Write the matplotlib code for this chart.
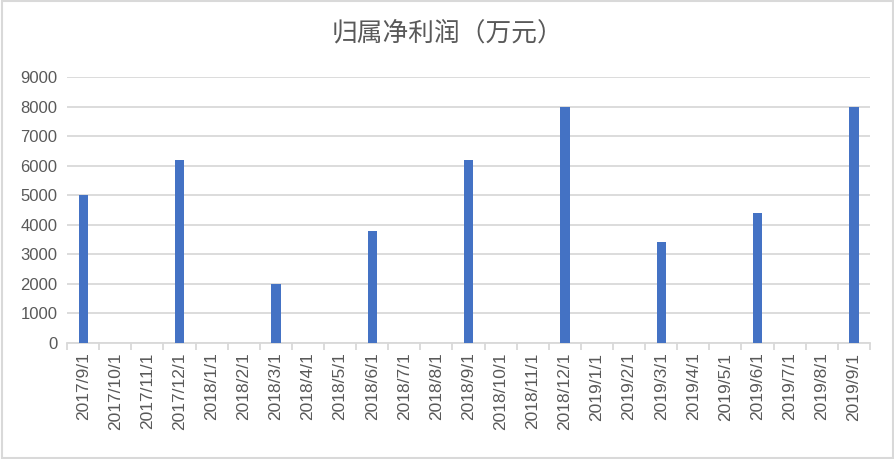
import numpy as np
import matplotlib
matplotlib.use('Agg')
import matplotlib.pyplot as plt
from matplotlib.ticker import FixedLocator

plt.rcParams['font.family'] = ['Liberation Sans', 'Noto Sans CJK SC', 'DejaVu Sans']

# data
dates = ['2017/9/1', '2017/10/1', '2017/11/1', '2017/12/1', '2018/1/1', '2018/2/1',
         '2018/3/1', '2018/4/1', '2018/5/1', '2018/6/1', '2018/7/1', '2018/8/1',
         '2018/9/1', '2018/10/1', '2018/11/1', '2018/12/1', '2019/1/1', '2019/2/1',
         '2019/3/1', '2019/4/1', '2019/5/1', '2019/6/1', '2019/7/1', '2019/8/1',
         '2019/9/1']
profit = [5000, 0, 0, 6200, 0, 0, 2000, 0, 0, 3800, 0, 0, 6200, 0, 0, 8000,
          0, 0, 3400, 0, 0, 4400, 0, 0, 8000]
title = '归属净利润（万元）'

txt = '#595959'
grid = '#D9D9D9'

fig = plt.figure(figsize=(8.95, 4.59), dpi=100)
ax = fig.add_axes([0.075, 0.253, 0.897, 0.579])

x = np.arange(len(dates))
ax.bar(x, profit, width=0.29, color='#4472C4', zorder=3)

ax.set_xlim(-0.5, len(dates) - 0.5)
ax.set_ylim(0, 9000)
ax.set_yticks(np.arange(0, 9001, 1000))
ax.yaxis.grid(True, color=grid, linewidth=1.3, zorder=0)
ax.tick_params(axis='y', length=0, labelsize=12, labelcolor=txt, pad=7)

ax.set_xticks(x)
ax.set_xticklabels(dates, rotation=90, fontsize=12.5, color=txt)
ax.tick_params(axis='x', which='major', length=0, pad=7)
ax.xaxis.set_minor_locator(FixedLocator(np.arange(-0.5, len(dates), 1.0)))
ax.tick_params(axis='x', which='minor', length=5, width=1.3, color=grid)

for s in ['top', 'right', 'left']:
    ax.spines[s].set_visible(False)
ax.spines['bottom'].set_color(grid)
ax.spines['bottom'].set_linewidth(1.3)

fig.text(0.5, 0.928, title, ha='center', va='center', fontsize=18.5, color=txt,
         family=['Noto Sans CJK SC', 'DejaVu Sans'])

# outer border
fig.patches.append(plt.Rectangle((0.002, 0.003), 0.996, 0.994, transform=fig.transFigure,
                                 fill=False, edgecolor=grid, linewidth=1.5))

plt.savefig('out.png', dpi=100)
